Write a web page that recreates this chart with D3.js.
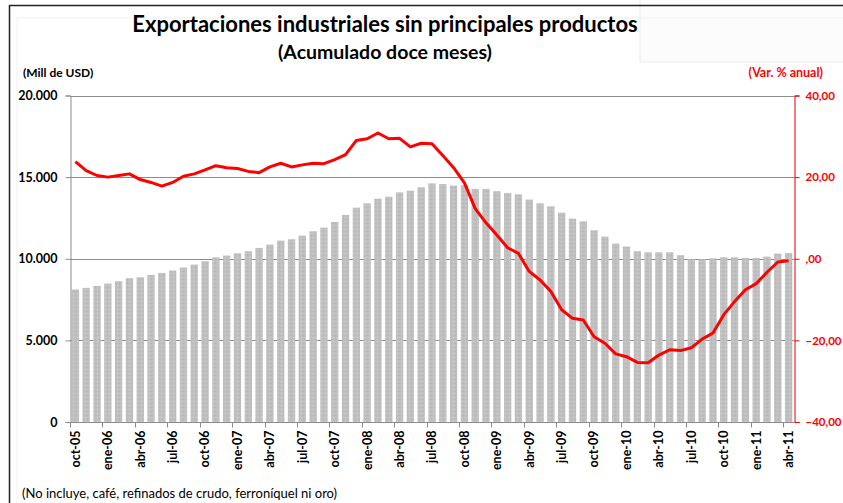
<!DOCTYPE html>
<html>
<head>
<meta charset="utf-8">
<script src="https://cdn.jsdelivr.net/npm/d3@7"></script>
<style>
  body { margin: 0; background: #fff; }
  svg { display: block; font-family: Lato, "Open Sans", sans-serif; }
</style>
</head>
<body>
<svg width="843" height="503"></svg>
<script>
//Month labels, oct-05 to abr-11
var categories = [
  "oct-05","nov-05","dic-05",
  "ene-06","feb-06","mar-06","abr-06","may-06","jun-06","jul-06","ago-06","sep-06","oct-06","nov-06","dic-06",
  "ene-07","feb-07","mar-07","abr-07","may-07","jun-07","jul-07","ago-07","sep-07","oct-07","nov-07","dic-07",
  "ene-08","feb-08","mar-08","abr-08","may-08","jun-08","jul-08","ago-08","sep-08","oct-08","nov-08","dic-08",
  "ene-09","feb-09","mar-09","abr-09","may-09","jun-09","jul-09","ago-09","sep-09","oct-09","nov-09","dic-09",
  "ene-10","feb-10","mar-10","abr-10","may-10","jun-10","jul-10","ago-10","sep-10","oct-10","nov-10","dic-10",
  "ene-11","feb-11","mar-11","abr-11"
];

//Exports, twelve month accumulated (Mill de USD)
var exportValues = [
  8116, 8215, 8338, 8480, 8624, 8807, 8868, 9010, 9133, 9276,
  9460, 9643, 9847, 10092, 10194, 10336, 10459, 10663, 10867, 11112,
  11193, 11417, 11682, 11906, 12252, 12680, 13129, 13394, 13679, 13801,
  14067, 14169, 14373, 14617, 14576, 14480, 14520, 14280, 14280, 14135,
  14026, 13944, 13625, 13394, 13211, 12822, 12456, 12293, 11743, 11356,
  10928, 10744, 10459, 10397, 10397, 10397, 10214, 9969, 9969, 10030,
  10091, 10091, 10051, 10051, 10132, 10316, 10357
];

//Annual variation (%)
var varValues = [
  23.8, 21.6, 20.4, 20.0, 20.4, 20.8, 19.4, 18.7, 17.8, 18.7,
  20.2, 20.8, 21.8, 22.8, 22.3, 22.1, 21.4, 21.1, 22.5, 23.4,
  22.5, 23.0, 23.4, 23.3, 24.3, 25.5, 29.0, 29.4, 30.8, 29.4,
  29.5, 27.4, 28.3, 28.2, 25.3, 22.3, 18.6, 12.3, 8.8, 5.8,
  2.7, 1.3, -3.1, -5.2, -8.0, -12.5, -14.6, -15.0, -19.1, -20.7,
  -23.3, -24.0, -25.4, -25.5, -23.6, -22.3, -22.5, -21.8, -19.7, -18.2,
  -13.7, -10.5, -7.6, -6.1, -3.3, -0.8, -0.5
];

var leftTicks = [0, 5000, 10000, 15000, 20000];
var rightTicks = [-40, -20, 0, 20, 40];

var svg = d3.select("svg"),
  width = +svg.attr("width"),
  height = +svg.attr("height");

//Plot box (window.top is read only, so no plain "top")
var plot = { left: 70, right: 794, top: 95.5, bottom: 422 };

//Faint background panels from the original slide
svg.append("rect").attr("x", 640).attr("y", -2).attr("width", 210).attr("height", 64)
  .attr("fill", "#fcfcfc").attr("stroke", "#ececec");
svg.append("rect").attr("x", 17).attr("y", 18).attr("width", 900).attr("height", 600)
  .attr("fill", "none").attr("stroke", "#f2f2f2");

//Frame lines
svg.append("line").attr("x1", 9).attr("x2", width).attr("y1", 5.5).attr("y2", 5.5)
  .attr("stroke", "#222").attr("stroke-width", 1.5);
svg.append("line").attr("x1", 9.5).attr("x2", 9.5).attr("y1", 5).attr("y2", height)
  .attr("stroke", "#222").attr("stroke-width", 1.5);

var x = d3.scaleBand()
  .domain(categories)
  .range([plot.left, plot.right])
  .paddingInner(0.32)
  .paddingOuter(0.16);

var y = d3.scaleLinear().domain([0, 20000]).range([plot.bottom, plot.top]);
var y2 = d3.scaleLinear().domain([-40, 40]).range([plot.bottom, plot.top]);

//Dotted fill for the bars
var pat = svg.append("defs").append("pattern")
  .attr("id", "dots")
  .attr("width", 4).attr("height", 4)
  .attr("patternUnits", "userSpaceOnUse");
pat.append("rect").attr("width", 4).attr("height", 4).attr("fill", "#bfbfbf");
pat.append("rect").attr("x", 1).attr("y", 1).attr("width", 1).attr("height", 1).attr("fill", "#d4d4d4");
pat.append("rect").attr("x", 3).attr("y", 3).attr("width", 1).attr("height", 1).attr("fill", "#b4b4b4");

//Gridlines
svg.append("g")
  .selectAll("line")
  .data(leftTicks.slice(1))
  .enter()
  .append("line")
  .attr("x1", plot.left).attr("x2", plot.right)
  .attr("y1", function(d) { return Math.round(y(d)) + 0.5; })
  .attr("y2", function(d) { return Math.round(y(d)) + 0.5; })
  .attr("stroke", "#8c8c8c");

//Bars
svg.append("g")
  .selectAll("rect")
  .data(exportValues)
  .enter()
  .append("rect")
  .attr("x", function(d, i) { return x(categories[i]); })
  .attr("width", x.bandwidth())
  .attr("y", function(d) { return y(d); })
  .attr("height", function(d) { return y(0) - y(d); })
  .attr("fill", "url(#dots)");

//Left axis
var leftAxis = svg.append("g")
  .attr("transform", "translate(" + (plot.left + 0.5) + ",0)")
  .call(d3.axisLeft(y).tickValues(leftTicks).tickSize(5).tickPadding(8)
    .tickFormat(function(d) { return d3.format(",")(d).replace(/,/g, "."); }));
leftAxis.select(".domain").attr("stroke", "#8c8c8c");
leftAxis.selectAll(".tick line").attr("stroke", "#8c8c8c");
leftAxis.selectAll("text")
  .attr("font-size", "12.5px").attr("font-weight", "bold").attr("fill", "#000")
  .attr("font-family", "Lato, sans-serif");

//Right axis
var rightAxis = svg.append("g")
  .attr("transform", "translate(" + (plot.right + 0.5) + ",0)")
  .call(d3.axisRight(y2).tickValues(rightTicks).tickSize(5).tickPadding(6)
    .tickFormat(function(d) { return d === 0 ? ",00" : d3.format(".2f")(d).replace(".", ","); }));
rightAxis.select(".domain").attr("stroke", "#e00000");
rightAxis.selectAll(".tick line").attr("stroke", "#e00000");
rightAxis.selectAll("text")
  .attr("font-size", "11.5px").attr("font-weight", "bold").attr("fill", "#ff0000")
  .attr("font-family", "Lato, sans-serif");

//Bottom axis, ticks every 3 months on category boundaries
var quarterly = categories.filter(function(d, i) { return i % 3 === 0; });
var bottomAxis = svg.append("g")
  .attr("transform", "translate(0," + (plot.bottom + 0.5) + ")");
bottomAxis.append("line")
  .attr("x1", plot.left).attr("x2", plot.right)
  .attr("stroke", "#8c8c8c");
bottomAxis.selectAll(".xtick")
  .data(quarterly)
  .enter()
  .append("line")
  .attr("class", "xtick")
  .attr("x1", function(d) { return Math.round(x(d) - x.step() * x.paddingInner() / 2) + 0.5; })
  .attr("x2", function(d) { return Math.round(x(d) - x.step() * x.paddingInner() / 2) + 0.5; })
  .attr("y1", 0).attr("y2", 5)
  .attr("stroke", "#8c8c8c");
bottomAxis.selectAll(".xlabel")
  .data(quarterly)
  .enter()
  .append("text")
  .attr("class", "xlabel")
  .attr("transform", function(d) {
    return "translate(" + (x(d) + x.bandwidth() / 2) + ",8) rotate(-90)";
  })
  .attr("dy", "0.35em")
  .attr("text-anchor", "end")
  .attr("font-size", "12.5px")
  .attr("font-weight", "bold")
  .text(function(d) { return d; });

//Variation line
var line = d3.line()
  .x(function(d, i) { return x(categories[i]) + x.bandwidth() / 2; })
  .y(function(d) { return y2(d); });

svg.append("path")
  .datum(varValues)
  .attr("d", line)
  .attr("fill", "none")
  .attr("stroke", "#ff0000")
  .attr("stroke-width", 3)
  .attr("stroke-linejoin", "round");

//Titles
svg.append("text")
  .attr("x", 385).attr("y", 32)
  .attr("text-anchor", "middle")
  .attr("font-size", "22px").attr("font-weight", "bold")
  .text("Exportaciones industriales sin principales productos");
svg.append("text")
  .attr("x", 385).attr("y", 59)
  .attr("text-anchor", "middle")
  .attr("font-size", "19.5px").attr("font-weight", "bold")
  .text("(Acumulado doce meses)");

svg.append("text")
  .attr("x", 23).attr("y", 77)
  .attr("font-size", "12px").attr("font-weight", "bold")
  .text("(Mill de USD)");
svg.append("text")
  .attr("x", 823).attr("y", 77)
  .attr("text-anchor", "end")
  .attr("font-size", "12.5px").attr("font-weight", "bold")
  .attr("fill", "#ff0000")
  .text("(Var. % anual)");

svg.append("text")
  .attr("x", 22).attr("y", 498)
  .attr("font-size", "13px")
  .text("(No incluye, café, refinados de crudo, ferroníquel ni oro)");
</script>
</body>
</html>
